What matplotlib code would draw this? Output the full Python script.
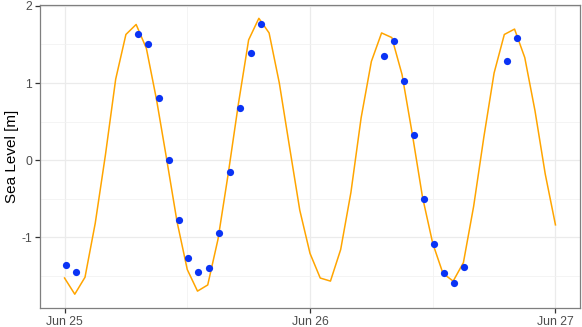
import numpy as np
import pandas as pd
import matplotlib
matplotlib.use("Agg")
import matplotlib.pyplot as plt
import matplotlib.dates as mdates
from matplotlib.ticker import MultipleLocator

plt.rcParams['font.family'] = ['Liberation Sans', 'DejaVu Sans']
plt.rcParams['axes.unicode_minus'] = False

# hourly model prediction, Jun 25 00:00 .. Jun 27 00:00
start = pd.Timestamp("2023-06-25 00:00")
model_level = [-1.53, -1.74, -1.52, -0.82, 0.07, 1.05, 1.63, 1.76, 1.45, 0.78,
               0.00, -0.80, -1.42, -1.70, -1.62, -1.03, -0.18, 0.73, 1.56, 1.84,
               1.65, 1.00, 0.17, -0.65, -1.21, -1.53, -1.57, -1.16, -0.42, 0.55,
               1.28, 1.65, 1.59, 1.11, 0.34, -0.48, -1.08, -1.47, -1.57, -1.33,
               -0.60, 0.30, 1.13, 1.63, 1.70, 1.33, 0.64, -0.18, -0.84]
model_time = [start + pd.Timedelta(hours=h) for h in range(len(model_level))]

# observations (hours after start)
obs_hours = [0.1, 1.1, 7.2, 8.2, 9.2, 10.2, 11.15, 12.06, 13.07, 14.08, 15.12,
             16.13, 17.17, 18.2, 19.22, 31.22, 32.23, 33.2, 34.15, 35.12, 36.1,
             37.1, 38.08, 39.09, 43.25, 44.26]
obs_level = [-1.36, -1.45, 1.63, 1.51, 0.80, 0.00, -0.78, -1.27, -1.45, -1.40,
             -0.94, -0.16, 0.68, 1.39, 1.76, 1.35, 1.55, 1.03, 0.33, -0.51,
             -1.09, -1.47, -1.59, -1.39, 1.28, 1.59]
obs_time = [start + pd.Timedelta(hours=h) for h in obs_hours]

fig = plt.figure(figsize=(5.82, 3.27), dpi=100)
ax = fig.add_axes([40 / 582, 1 - 308 / 327, 540 / 582, 303.5 / 327])

ax.plot(model_time, model_level, color='#FFA500', lw=1.1, zorder=3)
ax.plot(obs_time, obs_level, 'o', color='#0a33f5', ms=5.2, mec='none', zorder=4)

# ggplot-style 5% expansion
allv = model_level + obs_level
lo, hi = min(allv), max(allv)
pad = 0.05 * (hi - lo)
ax.set_ylim(lo - pad, hi + pad)
x0 = mdates.date2num(model_time[0])
x1 = mdates.date2num(model_time[-1])
xpad = 0.05 * (x1 - x0)
ax.set_xlim(x0 - xpad, x1 + xpad)

ax.yaxis.set_major_locator(MultipleLocator(1))
ax.yaxis.set_minor_locator(MultipleLocator(0.5))
ax.xaxis.set_major_locator(mdates.DayLocator())
ax.xaxis.set_minor_locator(mdates.HourLocator(byhour=[12]))
ax.xaxis.set_major_formatter(mdates.DateFormatter('%b %d'))

ax.grid(which='major', color='#EBEBEB', lw=0.9, zorder=0)
ax.grid(which='minor', color='#F2F2F2', lw=0.6, zorder=0)
ax.set_axisbelow(True)
for s in ax.spines.values():
    s.set_color('#7F7F7F')
    s.set_linewidth(0.9)
ax.tick_params(which='major', length=3.5, width=0.9, color='#333333',
               labelsize=8.8, labelcolor='#4D4D4D', pad=2)
ax.tick_params(which='minor', length=0)
ax.set_ylabel('Sea Level [m]', fontsize=11, color='black', va='center')
ax.yaxis.set_label_coords(-0.052, 0.5)

fig.savefig('out.png', dpi=100, facecolor='white')
